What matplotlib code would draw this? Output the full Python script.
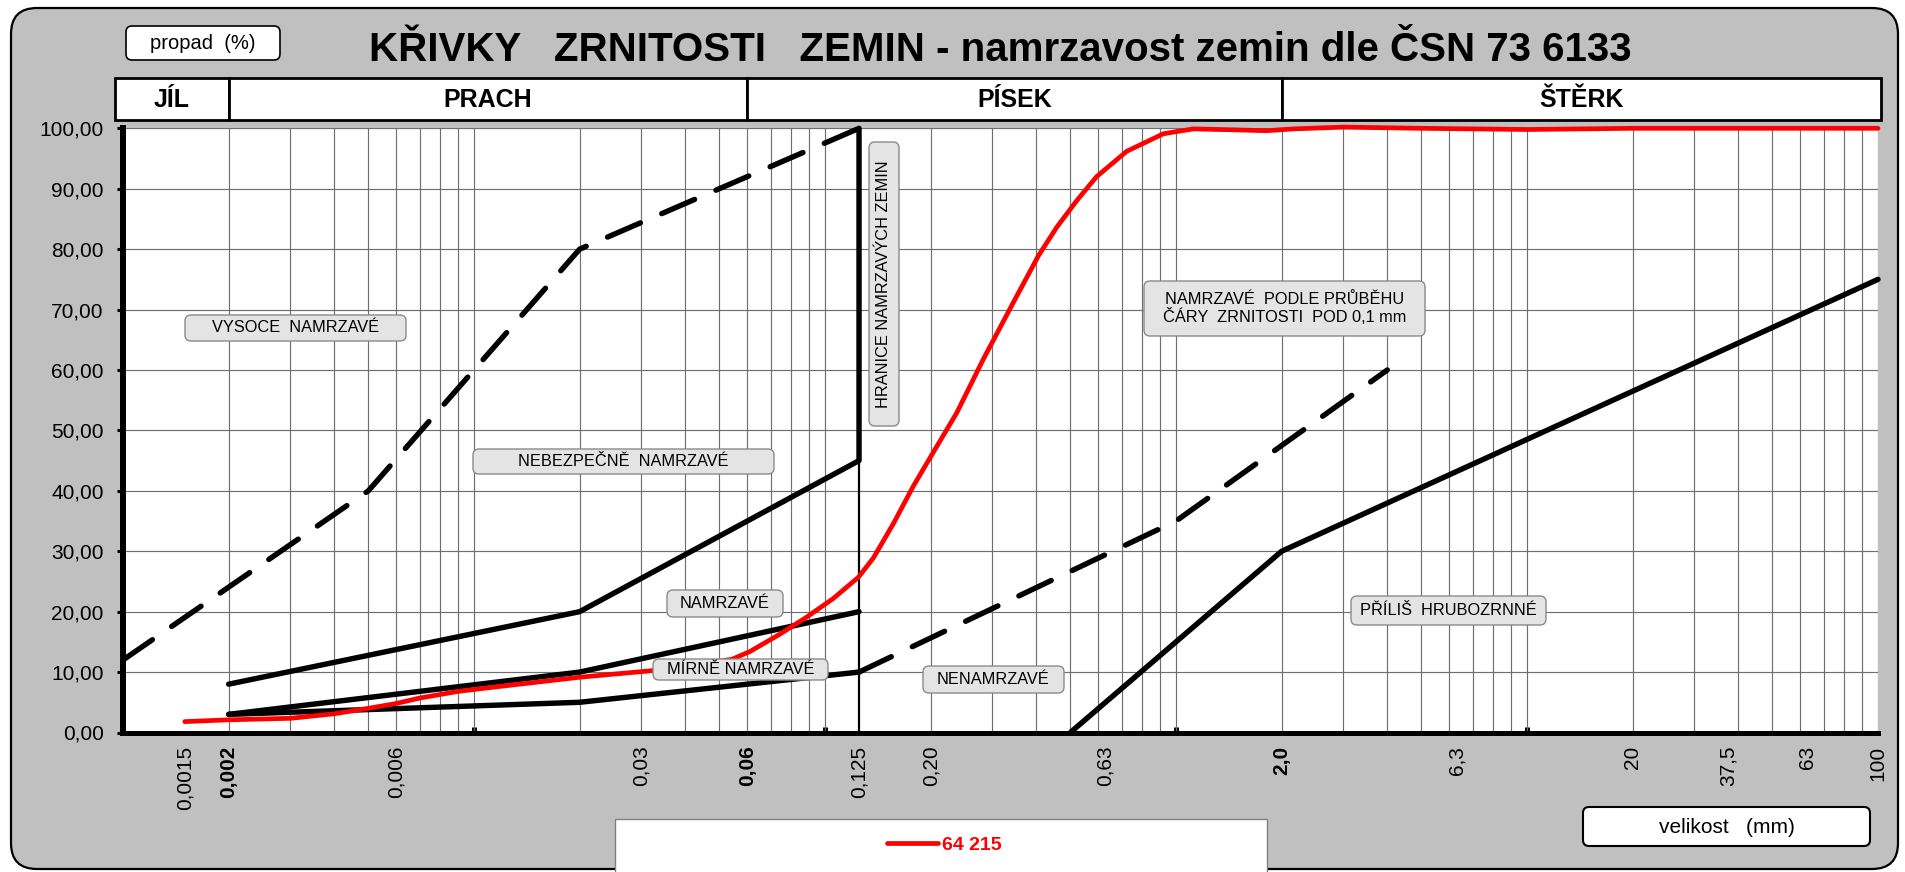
import matplotlib
matplotlib.use('Agg')
import matplotlib.pyplot as plt
import numpy as np
from matplotlib.patches import FancyBboxPatch, Rectangle
from matplotlib.transforms import IdentityTransform
from matplotlib.ticker import FixedLocator, NullFormatter
from matplotlib import font_manager

# ---------------- data ----------------
sample_name = "64 215"
sample_size = [0.0015, 0.002, 0.003, 0.004, 0.005, 0.006, 0.007, 0.009, 0.0106, 0.02,
               0.0317, 0.0542, 0.0611, 0.0745, 0.0887, 0.1057, 0.1245, 0.1374, 0.1567,
               0.1786, 0.2036, 0.2373, 0.2826, 0.3442, 0.4055, 0.457, 0.521, 0.594,
               0.724, 0.921, 1.12, 1.456, 1.81, 2.16, 3.0, 4.95, 10, 20, 100]
sample_pass = [1.8, 2.1, 2.35, 3.1, 4.0, 4.8, 5.7, 6.8, 7.3, 9.15,
               10.2, 12.1, 13.4, 16.3, 19.1, 22.2, 25.7, 28.9, 34.6,
               40.8, 46.4, 52.9, 61.8, 71.2, 78.9, 83.6, 88.0, 92.0,
               96.2, 99.1, 99.9, 99.75, 99.6, 99.9, 100.2, 100.0, 99.8, 100, 100]

bound_vysoce_x = [0.001, 0.005, 0.02, 0.125]
bound_vysoce_y = [12, 40, 80, 100]
bound_nebezp_x = [0.002, 0.02, 0.125, 0.125]
bound_nebezp_y = [8, 20, 45, 100]
bound_namrz_x = [0.002, 0.02, 0.125]
bound_namrz_y = [3, 10, 20]
bound_mirne_x = [0.002, 0.02, 0.125]
bound_mirne_y = [3, 5, 10]
bound_hranice_x = [0.125, 0.125]
bound_hranice_y = [0, 100]
bound_podle_x = [0.125, 1.0, 4.0]
bound_podle_y = [10, 35, 60]
bound_hrubo_x = [0.5, 2.0, 100]
bound_hrubo_y = [0, 30, 75]

x_tick_values = [0.0015, 0.002, 0.006, 0.03, 0.06, 0.125, 0.20, 0.63, 2.0, 6.3, 20, 37.5, 63, 100]
x_tick_labels = ['0,0015', '0,002', '0,006', '0,03', '0,06', '0,125', '0,20', '0,63',
                 '2,0', '6,3', '20', '37,5', '63', '100']
x_bold_labels = ['0,002', '0,06', '2,0']
y_tick_values = list(range(0, 101, 10))

soil_names = ['JÍL', 'PRACH', 'PÍSEK', 'ŠTĚRK']
soil_bounds = [0.002, 0.06, 2.0]

zone_texts = ['VYSOCE  NAMRZAVÉ', 'NEBEZPEČNĚ  NAMRZAVÉ', 'NAMRZAVÉ', 'MÍRNĚ NAMRZAVÉ',
              'NENAMRZAVÉ', 'HRANICE NAMRZAVÝCH ZEMIN',
              'NAMRZAVÉ  PODLE PRŮBĚHU\nČÁRY  ZRNITOSTI  POD 0,1 mm', 'PŘÍLIŠ  HRUBOZRNNÉ']
# label boxes in pixel coordinates (left, top, right, bottom)
zone_boxes = [(185, 315, 406, 341), (473, 449, 774, 474), (667, 590, 783, 617),
              (653, 659, 828, 680), (923, 666, 1064, 693), (869, 142, 899, 426),
              (1144, 281, 1425, 336), (1351, 596, 1546, 625)]
zone_rot = [0, 0, 0, 0, 0, 90, 0, 0]

title = "KŘIVKY   ZRNITOSTI   ZEMIN - namrzavost zemin dle ČSN 73 6133"

# ---------------- figure ----------------
W, H, DPI = 1905, 872, 100
names = {f.name for f in font_manager.fontManager.ttflist}
NARROW = 'Liberation Sans Narrow' if 'Liberation Sans Narrow' in names else None
plt.rcParams['font.family'] = ['Liberation Sans', 'DejaVu Sans']

fig = plt.figure(figsize=(W / DPI, H / DPI), dpi=DPI)
fig.patch.set_facecolor('white')


def rbox(x0, y0, x1, y1, r, fc, ec, lw, z):
    p = FancyBboxPatch((x0, H - y1), x1 - x0, y1 - y0,
                       boxstyle=f"round,pad=0,rounding_size={r}",
                       transform=IdentityTransform(), fc=fc, ec=ec, lw=lw, zorder=z)
    fig.add_artist(p)


def rect(x0, y0, x1, y1, fc, ec, lw, z):
    p = Rectangle((x0, H - y1), x1 - x0, y1 - y0, transform=IdentityTransform(),
                  fc=fc, ec=ec, lw=lw, zorder=z)
    fig.add_artist(p)


def ftext(x, y, s, **kw):
    return fig.text(x / W, 1 - y / H, s, **kw)


# outer grey frame
rbox(11, 8, 1898, 869, 26, '#C0C0C0', 'black', 1.6, -10)

# axes
L, R, T, B = 123, 1878, 128.3, 732.5
ax = fig.add_axes([L / W, 1 - B / H, (R - L) / W, (B - T) / H])
ax.set_xscale('log')
ax.set_xlim(0.001, 100)
ax.set_ylim(0, 100)
ax.set_facecolor('white')

# grid
GRID = '#6F6F6F'
for k in range(-3, 2):
    for n in range(1, 10):
        ax.axvline(n * 10.0 ** k, color=GRID, lw=0.85, zorder=1)
ax.axvline(100, color=GRID, lw=0.85, zorder=1)
ax.set_yticks(y_tick_values)
ax.yaxis.grid(True, color=GRID, lw=0.85, zorder=1)
ax.set_axisbelow(True)

# series
solid = dict(color='black', lw=3.9, solid_capstyle='round', solid_joinstyle='round',
             zorder=3, clip_on=False)
dashed = dict(color='black', lw=3.9, ls=(0, (6.6, 4.3)), dash_capstyle='round',
              dash_joinstyle='round', zorder=3, clip_on=False)
ax.plot(bound_hranice_x, bound_hranice_y, color='black', lw=1.6, zorder=3, clip_on=False)
ax.plot(bound_vysoce_x, bound_vysoce_y, **dashed)
ax.plot(bound_nebezp_x, bound_nebezp_y, **solid)
ax.plot(bound_namrz_x, bound_namrz_y, **solid)
ax.plot(bound_mirne_x, bound_mirne_y, **solid)
ax.plot(bound_podle_x, bound_podle_y, **dashed)
ax.plot(bound_hrubo_x, bound_hrubo_y, **solid)
red_line, = ax.plot(sample_size, sample_pass, color='#FF0000', lw=3.4, label=sample_name,
                    solid_capstyle='round', solid_joinstyle='round', zorder=4, clip_on=False)

# spines & ticks
for s in ['top', 'right']:
    ax.spines[s].set_visible(False)
ax.spines['left'].set_linewidth(4.3)
ax.spines['bottom'].set_linewidth(3.6)
ax.spines['left'].set_zorder(5)
ax.spines['bottom'].set_zorder(5)

ax.set_yticklabels([f"{v:.2f}".replace('.', ',') for v in y_tick_values], fontsize=15)
ax.tick_params(axis='y', direction='out', length=4.3, width=2.2, pad=9.5, color='black')

ax.set_xticks(x_tick_values)
ax.set_xticklabels(x_tick_labels, rotation=90, fontsize=15)
ax.tick_params(axis='x', which='major', length=0, pad=9.5)
ax.xaxis.set_minor_locator(FixedLocator([0.01, 0.1, 1, 10, 100]))
ax.xaxis.set_minor_formatter(NullFormatter())
ax.tick_params(axis='x', which='minor', direction='in', length=4.5, width=3.6, color='black')
for t in ax.get_xticklabels():
    if t.get_text() in x_bold_labels:
        t.set_fontweight('bold')

# header band with soil classes
bpx = [ax.transData.transform((b, 50))[0] for b in soil_bounds]
edges = [115] + bpx + [1881]
hfam = [NARROW, 'Liberation Sans'] if NARROW else ['Liberation Sans']
hsize = 21.5 if NARROW else 18
for i, nm in enumerate(soil_names):
    x0, x1 = edges[i], edges[i + 1]
    p = Rectangle((x0, H - 120), x1 - x0, 42, transform=IdentityTransform(),
                  fc='white', ec='black', lw=2.0, zorder=2)
    fig.add_artist(p)
    ftext((x0 + x1) / 2, 100, nm, ha='center', va='center', fontsize=hsize,
          fontweight='bold', family=hfam, zorder=3)

# title
ftext(1000, 61, title, ha='center', va='baseline', fontsize=29, fontweight='bold')

# propad box
rbox(126, 26, 280, 60, 6, 'white', 'black', 1.2, 2)
ftext(203, 43.5, 'propad  (%)', ha='center', va='center', fontsize=14.5, zorder=3)

# velikost box
rbox(1583, 807, 1870, 846, 6, 'white', 'black', 1.5, 2)
ftext(1726.5, 827, 'velikost   (mm)', ha='center', va='center', fontsize=15, zorder=3)

# zone labels
for txt, (x0, y0, x1, y1), rot in zip(zone_texts, zone_boxes, zone_rot):
    rbox(x0, y0, x1, y1, 6, '#E4E4E4', '#8A8A8A', 1.0, 5)
    ftext((x0 + x1) / 2, (y0 + y1) / 2, txt, ha='center', va='center', fontsize=11.8,
          rotation=rot, zorder=6, linespacing=1.05, multialignment='center')

# legend
rect(615, 819, 1267, 873, 'white', '#808080', 1.0, 2)
fig.legend(handles=[red_line], labels=[sample_name], loc='center',
           bbox_to_anchor=(944.5 / W, 1 - 845 / H), bbox_transform=fig.transFigure,
           frameon=False, prop={'weight': 'bold', 'size': 14}, handlelength=2.6,
           handletextpad=0.25, labelcolor='#FF0000')

fig.savefig('out.png', dpi=DPI, facecolor='white')
